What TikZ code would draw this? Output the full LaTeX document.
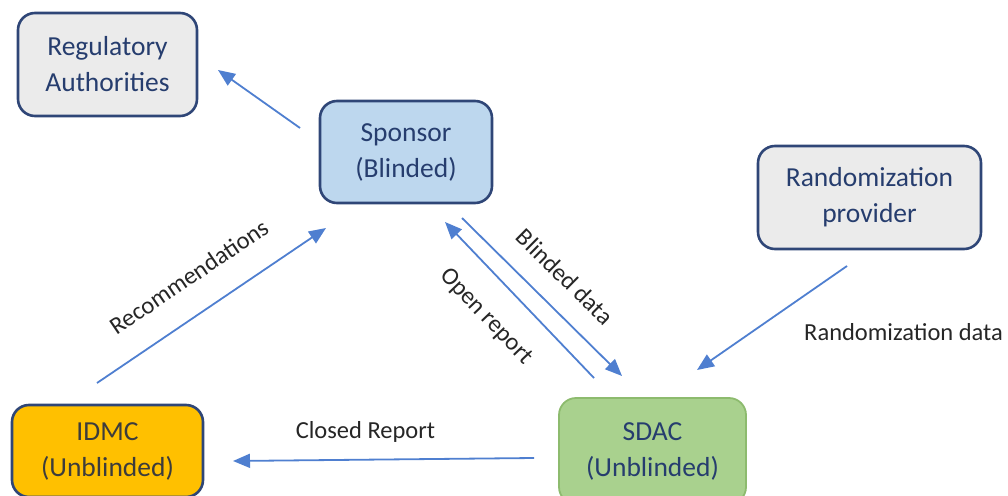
\documentclass[tikz,border=0pt]{standalone}
\usepackage{fontspec}
\setmainfont{Carlito}
\usetikzlibrary{arrows.meta}
\definecolor{navy}{HTML}{2F4677}
\definecolor{navytext}{HTML}{263D6E}
\definecolor{grayfill}{HTML}{EBEBEB}
\definecolor{bluefill}{HTML}{BDD7EE}
\definecolor{orangefill}{HTML}{FFC000}
\definecolor{greenfill}{HTML}{A9D18E}
\definecolor{greenborder}{HTML}{8DBB6E}
\definecolor{arrowblue}{HTML}{4F7FD0}
\definecolor{labeltext}{HTML}{262626}
\begin{document}
\begin{tikzpicture}[x=1pt,y=-1pt,
  box/.style={draw=navy, line width=2.6pt, rounded corners=17pt, align=center,
    font=\fontsize{27.5}{36}\selectfont, text=navytext, inner sep=0pt},
  conn/.style={draw=arrowblue, line width=1.8pt, -{Triangle[length=17pt,width=14pt]}},
  lbl/.style={font=\fontsize{24.5}{28}\selectfont, text=labeltext, inner sep=0pt}]
\useasboundingbox (0,0) rectangle (1008,495);
\node[box, fill=grayfill, minimum width=179pt, minimum height=103pt] (reg) at (107.5,64.5) {Regulatory\\Authorities};
\node[box, fill=bluefill, minimum width=172pt, minimum height=102pt] (spon) at (406,152) {Sponsor\\(Blinded)};
\node[box, fill=grayfill, minimum width=223pt, minimum height=103pt] (rand) at (869.5,197.5) {Randomization\\provider};
\node[box, fill=orangefill, text=labeltext!90, minimum width=191pt, minimum height=92pt] (idmc) at (107.5,451) {IDMC\\(Unblinded)};
\node[box, fill=greenfill, draw=greenborder, line width=1.8pt, minimum width=187pt, minimum height=106pt] (sdac) at (652.5,451) {SDAC\\(Unblinded)};
% connector endpoints
\coordinate (s1) at (300,128);
\coordinate (r1) at (218,70);
\coordinate (i1) at (97,383);
\coordinate (s2) at (326,228);
\coordinate (d1) at (594,378);
\coordinate (s3) at (445,222);
\coordinate (s4) at (462,218);
\coordinate (d2) at (622,376);
\coordinate (p1) at (847,266);
\coordinate (d3) at (697,370);
\coordinate (d4) at (534,458);
\coordinate (i2) at (233,461);
\draw[conn] (s1) -- (r1);
\draw[conn] (i1) -- node[lbl, sloped, above=27pt, pos=0.49] {Recommendations} (s2);
\draw[conn] (d1) -- node[lbl, sloped, below=25pt, pos=0.55] {Open report} (s3);
\draw[conn] (s4) -- node[lbl, sloped, above=21pt, pos=0.51] {Blinded data} (d2);
\draw[conn] (p1) -- (d3);
\node[lbl, anchor=west] (rdl) at (804,332) {Randomization data};
\draw[conn] (d4) -- node[lbl, above=16pt, pos=0.56] {Closed Report} (i2);
\end{tikzpicture}
\end{document}
